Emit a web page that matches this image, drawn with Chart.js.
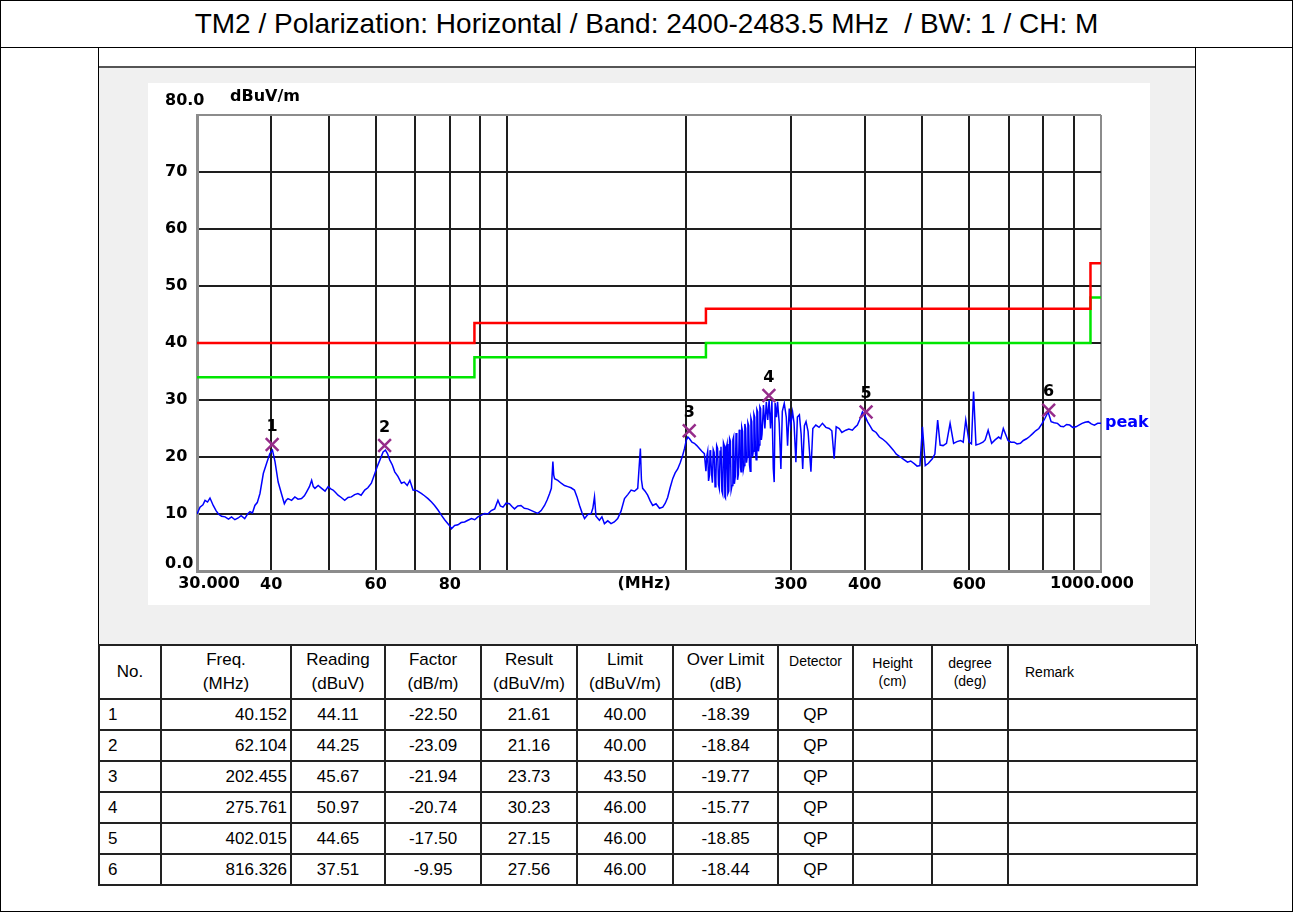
<!DOCTYPE html>
<html>
<head>
<meta charset="utf-8">
<script src="https://cdn.jsdelivr.net/npm/chart.js@4.4.1/dist/chart.umd.min.js"></script>
<style>
  body { margin: 0; width: 1293px; height: 912px; position: relative; overflow: hidden; background: #fff; font-family: "Liberation Sans", Arial, sans-serif; }
  #frame { position: absolute; left: 0; top: 0; width: 1291px; height: 910px; border: 1px solid #000; }
  #title { position: absolute; left: 0; top: 0; width: 1293px; height: 47px; border-bottom: 1px solid #000; text-align: center; font-size: 28px; line-height: 48px; white-space: pre; }
  #inner { position: absolute; left: 98px; top: 47px; width: 1096px; height: 598px; border-left: 1px solid #000; border-right: 1px solid #000; }
  #img { position: absolute; left: 99px; top: 66px; width: 1096px; height: 579px; background: #f0f0f0; border-top: 2px solid #555; box-sizing: border-box; }
  #panel { position: absolute; left: 148px; top: 83px; width: 1002px; height: 522px; background: #fff; }
  #chart { position: absolute; left: 148px; top: 83px; }
  table { position: absolute; left: 98px; top: 644px; border-collapse: collapse; table-layout: fixed; width: 1098px; font-size: 17px; }
  td { border: 2px solid #222; padding: 0 4px; height: 29px; text-align: center; white-space: nowrap; overflow: hidden; }
  tr.head td { height: 46px; line-height: 24px; }
  td.s { font-size: 14px; line-height: 18px !important; }
  td.top { vertical-align: top; padding-top: 6px; }
  td.left { text-align: left; padding-left: 8px; }
  td.right { text-align: right; padding-right: 3px; }
</style>
</head>
<body>
<div id="frame"></div>
<div id="title">TM2 / Polarization: Horizontal / Band: 2400-2483.5 MHz  / BW: 1 / CH: M</div>
<div id="inner"></div>
<div id="img"></div>
<div id="panel"></div>
<canvas id="chart" width="1002" height="522"></canvas>
<table id="tbl">
  <colgroup>
    <col style="width:62px"><col style="width:130px"><col style="width:94px"><col style="width:96px">
    <col style="width:96px"><col style="width:96px"><col style="width:105px"><col style="width:75px">
    <col style="width:79px"><col style="width:76px"><col style="width:189px">
  </colgroup>
  <tr class="head">
    <td>No.</td><td>Freq.<br>(MHz)</td><td>Reading<br>(dBuV)</td><td>Factor<br>(dB/m)</td>
    <td>Result<br>(dBuV/m)</td><td>Limit<br>(dBuV/m)</td><td>Over Limit<br>(dB)</td>
    <td class="s top">Detector</td><td class="s">Height<br>(cm)</td><td class="s">degree<br>(deg)</td>
    <td class="s left" style="padding-left:16px">Remark</td>
  </tr>
</table>
<script>
// measured trace (peak), MHz / dBuV/m
const traceFreq = [
  30.0, 30.35, 30.7, 30.95, 31.25, 31.55, 31.95, 32.3, 32.6, 33.0,
  33.45, 33.9, 34.3, 34.75, 35.2, 35.6, 36.1, 36.5, 36.85, 37.2,
  37.55, 37.9, 38.3, 38.8, 39.3, 39.8, 40.2, 40.6, 41.1, 41.7,
  42.1, 42.4, 42.7, 43.3, 43.85, 44.4, 45.0, 45.5, 45.9, 46.4,
  46.8, 47.1, 47.4, 48.0, 48.65, 49.3, 49.9, 50.4, 50.85, 51.3,
  51.85, 52.5, 53.2, 53.9, 54.6, 55.3, 56.0, 56.7, 57.5, 58.2,
  59.0, 59.8, 60.4, 61.0, 61.75, 62.3, 62.8, 63.35, 64.0, 64.6,
  65.4, 66.3, 67.0, 67.8, 68.5, 69.35, 70.4, 71.6, 72.5, 73.5,
  74.5, 75.4, 76.4, 77.4, 78.4, 79.4, 80.0, 80.5, 81.5, 82.55,
  83.6, 84.7, 85.8, 87.0, 88.1, 89.2, 90.4, 91.55, 92.7, 93.95,
  95.2, 96.4, 97.3, 98.3, 99.5, 100.8, 101.8, 102.8, 104.1, 105.4,
  106.8, 108.2, 110.3, 112.5, 114.0, 115.5, 116.7, 117.8, 118.6, 119.3,
  119.7, 120.1, 121.6, 123.2, 124.8, 126.4, 128.0, 129.7, 131.0, 132.3,
  133.6, 134.9, 136.6, 138.4, 139.3, 140.2, 141.0, 142.9, 144.3, 145.7,
  147.6, 149.5, 151.4, 153.4, 155.4, 157.5, 159.5, 161.6, 163.7, 165.8,
  167.5, 168.2, 169.0, 170.6, 172.3, 174.0, 175.7, 178.0, 180.4, 182.7,
  184.5, 186.2, 188.0, 189.9, 191.7, 193.6, 195.5, 197.4, 198.8, 200.1,
  201.4, 202.7, 204.6, 206.5, 208.5, 210.6, 212.6, 214.7,
  216, 216.8, 217.5, 218.2, 219, 219.5, 220, 220.8, 221.5, 222.2,
  223, 223.8, 224.5, 225.2, 226, 226.8, 227.5, 228.2, 229, 229.8,
  230.5, 231.2, 232, 232.5, 233, 233.8, 234.5, 235.2, 236, 236.8,
  237.5, 238.2, 239, 239.8, 240.5, 241.2, 242, 242.8, 243.5, 244.2,
  245, 245.8, 246.5, 247, 247.5, 248.2, 249, 249.8, 250.5, 251.2,
  252, 252.8, 253.5, 254.2, 255, 255.8, 256.5, 257.2, 258, 258.8,
  259.5, 260.2, 261, 261.8, 262.5, 263.2, 264, 264.8, 265.6, 266.3,
  267, 267.8, 268.5,
  270, 271.5, 273, 274.5, 276,
  277.5, 279, 280.5, 281.5, 282.5, 284, 285.2, 287, 288.9, 290.5,
  292.7, 295, 296.5, 298.4, 300, 302.3, 304, 306.2, 308, 310.4,
  312.5, 314.4, 316.5, 318.5, 321, 324.6, 327, 330.8, 335, 339.4,
  344, 348.4, 352, 355.2, 358, 362.3, 366, 371.6, 376, 381.2,
  385, 388.7, 392, 396.4, 400, 404.2, 408, 412.2, 418, 423.3,
  428, 434.9, 440, 446.9, 452, 459.3, 465, 472.1, 478, 485.1,
  490, 495.4, 500.3, 505.8, 512, 519.8, 525, 530.7, 535.8, 542,
  549.2, 556.9, 564.6, 572, 580.1, 586, 591.8, 599.5, 605, 610,
  615.7, 624, 632.5, 638, 645.5, 654.3, 663, 672.2, 678, 684.6,
  697.2, 705, 714.1, 722, 731.5, 740, 749.1, 758, 767.2, 776,
  785.8, 795, 804.8, 814.5, 824.1, 834, 844.8, 855, 864.9, 875,
  885.7, 896, 907.4, 918, 929.2, 940, 951.6, 963, 974.7, 987,
  1000
];
const traceLevel = [
  10.0, 11.2, 11.6, 12.4, 12.1, 12.8, 11.5, 10.6, 10.0, 9.6,
  9.5, 9.1, 9.5, 9.0, 9.3, 9.7, 9.2, 10.0, 10.4, 10.2,
  11.5, 12.0, 13.6, 17.1, 18.9, 20.6, 21.2, 19.2, 15.6, 13.3,
  11.8, 12.4, 12.7, 12.4, 13.0, 12.6, 12.7, 13.2, 13.9, 14.8,
  15.9, 14.8, 14.5, 15.0, 14.5, 14.0, 14.8, 14.4, 14.2, 13.8,
  13.3, 12.9, 12.4, 12.9, 13.0, 13.4, 13.6, 13.3, 14.2, 14.6,
  15.4, 17.1, 18.4, 19.5, 20.9, 21.2, 20.6, 19.5, 18.6, 17.4,
  16.6, 15.4, 15.6, 15.0, 15.9, 14.2, 14.1, 13.6, 13.2, 12.7,
  12.1, 11.5, 10.7, 9.8, 9.0, 8.3, 7.9, 7.4, 8.0, 8.1,
  8.5, 8.6, 8.9, 9.2, 9.0, 9.5, 9.8, 10.1, 10.0, 10.6,
  10.9, 12.4, 11.4, 11.2, 11.9, 11.8, 11.3, 10.9, 11.4, 11.5,
  11.0, 10.9, 10.5, 10.1, 10.6, 11.5, 12.5, 13.6, 14.5, 19.2,
  16.8, 16.2, 15.9, 15.4, 15.0, 14.8, 14.6, 14.2, 13.0, 11.5,
  10.2, 9.2, 9.9, 10.1, 11.0, 13.0, 9.6, 8.9, 9.5, 8.3,
  8.8, 8.3, 8.6, 9.2, 10.5, 12.7, 13.4, 14.2, 14.0, 14.5,
  21.5, 16.0, 14.5, 14.0, 13.3, 12.3, 11.5, 11.8, 11.0, 11.2,
  11.9, 12.9, 14.6, 16.2, 17.2, 17.9, 19.0, 20.3, 21.5, 22.9,
  23.5, 23.2, 22.6, 22.4, 22.0, 21.5, 21.0, 20.6,
  17.5, 20.2, 21.0, 15.8, 16.8, 21.2, 20.5, 17.0, 15.5, 21.3,
  20.8, 14.8, 16.0, 22.0, 21.5, 15.2, 14.5, 21.0, 21.8, 14.0,
  13.5, 22.5, 22.0, 13.0, 12.8, 21.6, 22.3, 13.6, 14.0, 23.2,
  22.8, 14.2, 15.0, 23.0, 23.5, 15.3, 16.5, 24.2, 23.0, 16.0,
  17.0, 24.8, 24.0, 18.2, 17.4, 25.2, 24.5, 17.8, 18.5, 25.8,
  25.0, 19.0, 20.0, 26.0, 25.5, 18.6, 17.5, 26.8, 26.2, 20.0,
  21.0, 27.5, 27.0, 20.6, 19.5, 28.3, 27.9, 21.0, 22.1, 28.8,
  28.5, 23.0, 24.0,
  29.1, 25.0, 29.7, 26.5, 30.0,
  25.0, 29.8, 18.0, 15.6, 29.5, 27.0, 29.7, 26.0, 17.9, 28.0,
  29.4, 27.0, 22.0, 28.5, 25.5, 27.9, 26.0, 19.1, 27.0, 27.4,
  24.0, 17.9, 25.5, 26.2, 24.5, 17.4, 25.0, 25.6, 25.2, 25.9,
  25.2, 25.0, 24.6, 19.7, 25.3, 25.0, 24.3, 24.7, 24.9, 24.7,
  25.2, 25.6, 26.5, 27.9, 27.3, 26.2, 25.5, 24.7, 24.3, 23.5,
  23.2, 22.6, 22.0, 21.2, 20.5, 20.0, 19.6, 19.1, 19.3, 18.8,
  18.4, 18.5, 25.3, 18.5, 18.9, 19.7, 20.5, 26.5, 22.1, 22.0,
  22.4, 25.9, 22.4, 22.7, 22.9, 22.6, 26.5, 22.6, 22.3, 31.5,
  22.1, 22.3, 22.6, 23.0, 24.7, 22.4, 23.0, 23.5, 23.2, 25.0,
  22.9, 22.6, 22.6, 22.3, 22.4, 22.9, 23.2, 23.6, 24.1, 24.6,
  25.0, 25.8, 26.8, 27.9, 26.2, 26.0, 25.9, 25.4, 25.3, 25.7,
  25.6, 25.2, 25.3, 25.6, 25.9, 26.1, 26.2, 25.8, 25.6, 25.9,
  25.9
];

// limit (red) and limit - 6 dB (green), stepped
const limitFreq = [30, 88, 216, 960, 1000];
const limitLevel = [40, 43.5, 46, 54, 54];
const marginLevel = [34, 37.5, 40, 48, 48];

// markers
const markerNo = ['1', '2', '3', '4', '5', '6'];
const markerFreq = [40.152, 62.104, 202.455, 275.761, 402.015, 816.326];
const markerLevel = [22.2, 22.0, 24.6, 30.8, 27.9, 28.2];

// axis ticks
const gridFreq = [30, 40, 50, 60, 70, 80, 90, 100, 200, 300, 400, 500, 600, 700, 800, 900, 1000];
const xTickLabels = ['', '40', '', '60', '', '80', '', '', '', '300', '400', '', '600', '', '', '', ''];

// table
const tblFreq = ['40.152', '62.104', '202.455', '275.761', '402.015', '816.326'];
const tblReading = ['44.11', '44.25', '45.67', '50.97', '44.65', '37.51'];
const tblFactor = ['-22.50', '-23.09', '-21.94', '-20.74', '-17.50', '-9.95'];
const tblResult = ['21.61', '21.16', '23.73', '30.23', '27.15', '27.56'];
const tblLimit = ['40.00', '40.00', '43.50', '46.00', '46.00', '46.00'];
const tblOver = ['-18.39', '-18.84', '-19.77', '-15.77', '-18.85', '-18.44'];
const tblDetector = ['QP', 'QP', 'QP', 'QP', 'QP', 'QP'];

const tbl = document.getElementById('tbl');
tblFreq.forEach((f, i) => {
  const tr = document.createElement('tr');
  tr.innerHTML = '<td class="left">' + markerNo[i] + '</td><td class="right">' + f + '</td><td>' + tblReading[i] +
    '</td><td>' + tblFactor[i] + '</td><td>' + tblResult[i] + '</td><td>' + tblLimit[i] + '</td><td>' + tblOver[i] +
    '</td><td>' + tblDetector[i] + '</td><td></td><td></td><td></td>';
  tbl.appendChild(tr);
});

const axisFont = { family: 'DejaVu Sans', weight: 'bold', size: 16 };
const frameGray = '#8c8c8c';

const annotate = {
  id: 'annotate',
  afterDatasetsDraw(chart) {
    const { ctx, scales: { x, y } } = chart;
    ctx.save();
    ctx.font = 'bold 16px "DejaVu Sans"';
    ctx.textBaseline = 'middle';
    ctx.textAlign = 'center';
    ctx.fillStyle = '#000';
    markerFreq.forEach((f, i) => {
      ctx.fillText(markerNo[i], x.getPixelForValue(f), y.getPixelForValue(markerLevel[i]) - 18);
    });
    // trace name at the end of the trace
    const n = traceFreq.length - 1;
    ctx.fillStyle = '#0000ff';
    ctx.textAlign = 'left';
    ctx.fillText('peak', x.getPixelForValue(traceFreq[n]) + 4, y.getPixelForValue(traceLevel[n]) - 1);
    // end labels that sit off the tick positions
    ctx.fillStyle = '#000';
    ctx.fillText('80.0', y.left, y.getPixelForValue(80) - 14);
    ctx.fillText('0.0', y.left, y.getPixelForValue(0) - 7);
    ctx.fillText('dBuV/m', x.left + 33, y.getPixelForValue(80) - 18);
    ctx.textAlign = 'center';
    const by = y.bottom + 13;
    ctx.fillText('30.000', x.getPixelForValue(30) + 12, by);
    ctx.fillText('(MHz)', x.getPixelForValue(170), by);
    ctx.fillText('1000.000', x.getPixelForValue(1000) - 9, by);
    ctx.restore();
  }
};

new Chart(document.getElementById('chart').getContext('2d'), {
  type: 'line',
  data: {
    datasets: [
      {
        data: markerFreq.map((f, i) => ({ x: f, y: markerLevel[i] })),
        showLine: false,
        pointStyle: 'crossRot',
        pointRadius: 9,
        pointBorderWidth: 2.5,
        pointBorderColor: '#962c8a'
      },
      {
        data: traceFreq.map((f, i) => ({ x: f, y: traceLevel[i] })),
        borderColor: '#0000ff',
        borderWidth: 1.5,
        pointRadius: 0
      },
      {
        data: limitFreq.map((f, i) => ({ x: f, y: limitLevel[i] })),
        borderColor: '#ff0000',
        borderWidth: 2.5,
        stepped: true,
        pointRadius: 0
      },
      {
        data: limitFreq.map((f, i) => ({ x: f, y: marginLevel[i] })),
        borderColor: '#00e600',
        borderWidth: 2.5,
        stepped: true,
        pointRadius: 0
      }
    ]
  },
  options: {
    responsive: false,
    animation: false,
    events: [],
    layout: { padding: { left: 17, top: 32, right: 49, bottom: 0 } },
    plugins: { legend: { display: false }, tooltip: { enabled: false } },
    scales: {
      x: {
        type: 'logarithmic',
        min: 30,
        max: 1000,
        afterBuildTicks: s => { s.ticks = gridFreq.map(v => ({ value: v })); },
        afterFit: s => { s.height = 34; },
        ticks: {
          autoSkip: false,
          maxRotation: 0,
          padding: 4,
          color: '#000',
          font: axisFont,
          callback: (v, i) => xTickLabels[i]
        },
        grid: {
          drawTicks: false,
          lineWidth: 2,
          color: c => (c.tick && (c.tick.value === 30 || c.tick.value === 1000)) ? frameGray : '#1e1e1e'
        },
        border: { color: frameGray, width: 3 }
      },
      y: {
        min: 0,
        max: 80,
        afterFit: s => { s.width = 32; },
        ticks: {
          stepSize: 10,
          crossAlign: 'far',
          padding: 0,
          color: '#000',
          font: axisFont,
          callback: v => (v === 0 || v === 80) ? '' : String(v)
        },
        grid: {
          drawTicks: false,
          lineWidth: 2,
          color: c => (c.tick && (c.tick.value === 0 || c.tick.value === 80)) ? frameGray : '#1e1e1e'
        },
        border: { color: frameGray, width: 3 }
      }
    }
  },
  plugins: [annotate]
});
</script>
</body>
</html>
